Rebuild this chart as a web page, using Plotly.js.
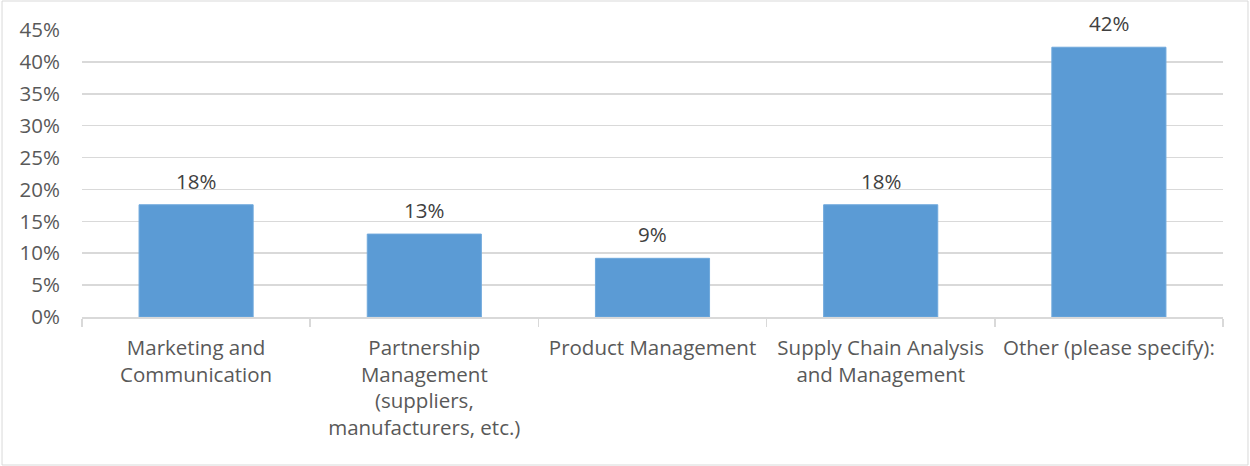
<!DOCTYPE html>
<html>
<head>
<meta charset="utf-8">
<script src="https://cdn.plot.ly/plotly-3.0.1.min.js"></script>
<style>html,body{margin:0;padding:0;background:#fff;}#chart{width:1250px;height:466px;}</style>
</head>
<body>
<div id="chart"></div>
<script>
const categories = [
  "Marketing and<br>Communication",
  "Partnership<br>Management<br>(suppliers,<br>manufacturers, etc.)",
  "Product Management",
  "Supply Chain Analysis<br>and Management",
  "Other (please specify):"
];
const values = [0.176, 0.130, 0.092, 0.176, 0.423];
const labels = ["18%", "13%", "9%", "18%", "42%"];

const FONT = "Open Sans, Lato, sans-serif";
const FS = 20.5;

const trace = {
  type: "bar",
  x: categories,
  y: values,
  marker: {color: "#5B9BD5", line: {color: "#6FA8DC", width: 1}},
  hoverinfo: "none"
};

const annotations = categories.map((c, i) => ({
  x: c, y: values[i], xref: "x", yref: "y",
  text: labels[i], showarrow: false,
  yanchor: "bottom", yshift: 8,
  font: {family: FONT, size: FS, color: "#404040"}
}));

const layout = {
  width: 1250, height: 466,
  margin: {l: 82, r: 27, t: 30, b: 149, pad: 0},
  paper_bgcolor: "#ffffff", plot_bgcolor: "#ffffff",
  showlegend: false,
  bargap: 0.5,
  font: {family: FONT, size: FS, color: "#595959"},
  xaxis: {
    type: "category",
    showgrid: false,
    showline: true, linecolor: "#D9D9D9", linewidth: 1.5,
    ticks: "outside", tickson: "boundaries", ticklen: 8, tickcolor: "#D9D9D9", tickwidth: 1.5,
    tickangle: 0,
    ticklabelstandoff: 12,
    tickfont: {family: FONT, size: FS, color: "#595959"},
    zeroline: false
  },
  yaxis: {
    range: [0, 0.45],
    dtick: 0.05, tick0: 0,
    tickformat: ".0%",
    showgrid: true, gridcolor: "#D9D9D9", gridwidth: 1.5,
    showline: false, zeroline: false,
    ticks: "",
    ticklabelstandoff: 21,
    tickfont: {family: FONT, size: FS, color: "#595959"}
  },
  annotations: annotations,
  shapes: [{
    type: "rect", xref: "paper", yref: "paper",
    x0: -0.0701, x1: 1.0219, y0: -0.5157, y1: 1.101,
    line: {color: "#D9D9D9", width: 1}, fillcolor: "rgba(0,0,0,0)", layer: "below"
  }]
};

Plotly.newPlot("chart", [trace], layout, {staticPlot: true, displayModeBar: false});
</script>
</body>
</html>
